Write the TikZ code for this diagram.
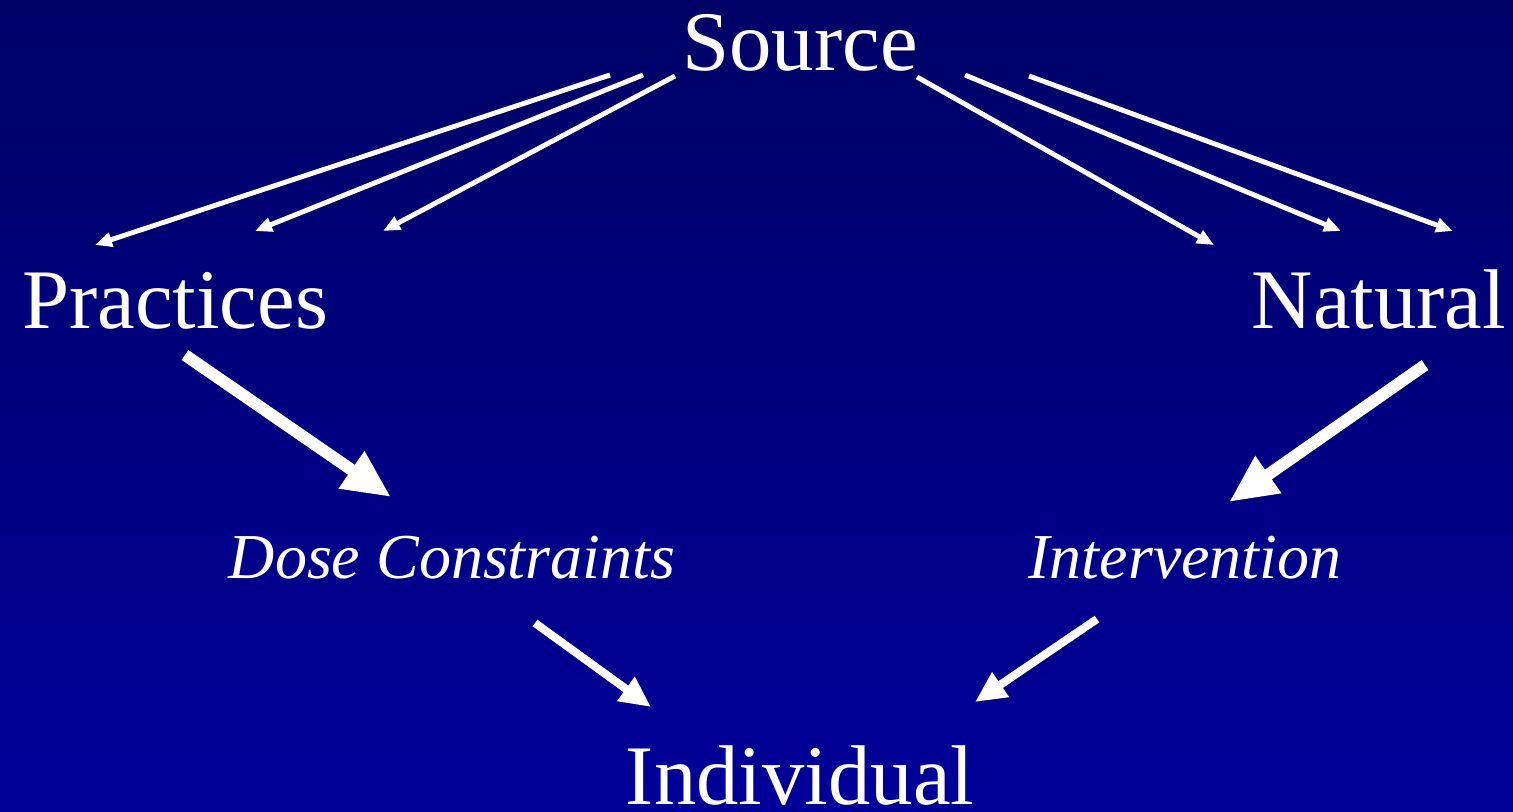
\documentclass[tikz,border=0pt]{standalone}
\usepackage{fontspec}
\setmainfont{Liberation Serif}
\usetikzlibrary{arrows.meta}
\definecolor{topblue}{HTML}{000066}
\definecolor{bottomblue}{HTML}{000099}

\begin{document}
\begin{tikzpicture}[x=0.01cm, y=-0.01cm,
            level/.style={text=white, inner sep=0pt, anchor=base, font=\fontsize{24.1}{28}\selectfont},
            measure/.style={text=white, inner sep=0pt, anchor=base, font=\fontsize{18.2}{22}\selectfont\itshape},
            feed/.style={draw=white, line width=1.4pt, -{Triangle[length=0.17cm, width=0.14cm]}},
            heavy/.style={draw=white, line width=3.4pt, -{Triangle[length=0.48cm, width=0.42cm]}},
            medium/.style={draw=white, line width=2.3pt, -{Triangle[length=0.31cm, width=0.28cm]}}
        ]

% Background
            \useasboundingbox (0,0) rectangle (1513,811);
            \shade[top color=topblue, bottom color=bottomblue] (0,0) rectangle (1513,811);

% Labels
            \node[level] (source) at (800,70) {Source};
            \node[level] (practices) at (175,328) {Practices};
            \node[level] (natural) at (1379,328) {Natural};
            \node[measure] (dose) at (452,578) {Dose Constraints};
            \node[measure] (interv) at (1185,578) {Intervention};
            \node[level] (individual) at (800,804) {Individual};

% Arrow ends
            \coordinate (srcL1) at (610,75);
            \coordinate (srcL2) at (643,75);
            \coordinate (srcL3) at (675,76);
            \coordinate (srcR1) at (917,77);
            \coordinate (srcR2) at (965,75);
            \coordinate (srcR3) at (1029,76);
            \coordinate (pracA) at (95,245);
            \coordinate (pracB) at (255,231);
            \coordinate (pracC) at (383,231);
            \coordinate (natA) at (1214,245);
            \coordinate (natB) at (1341,231);
            \coordinate (natC) at (1453,231);
            \coordinate (pracOut) at (185,355);
            \coordinate (doseIn) at (391,497);
            \coordinate (natOut) at (1425,365);
            \coordinate (intIn) at (1229,502);
            \coordinate (doseOut) at (535,623);
            \coordinate (intOut) at (1097,619);
            \coordinate (indL) at (651,707);
            \coordinate (indR) at (975,702);

% Source to Practices and Natural
            \draw[feed] (srcL1) -- (pracA);
            \draw[feed] (srcL2) -- (pracB);
            \draw[feed] (srcL3) -- (pracC);
            \draw[feed] (srcR1) -- (natA);
            \draw[feed] (srcR2) -- (natB);
            \draw[feed] (srcR3) -- (natC);

% Down to the individual
            \draw[heavy] (pracOut) -- (doseIn);
            \draw[heavy] (natOut) -- (intIn);
            \draw[medium] (doseOut) -- (indL);
            \draw[medium] (intOut) -- (indR);

        \end{tikzpicture}
\end{document}
